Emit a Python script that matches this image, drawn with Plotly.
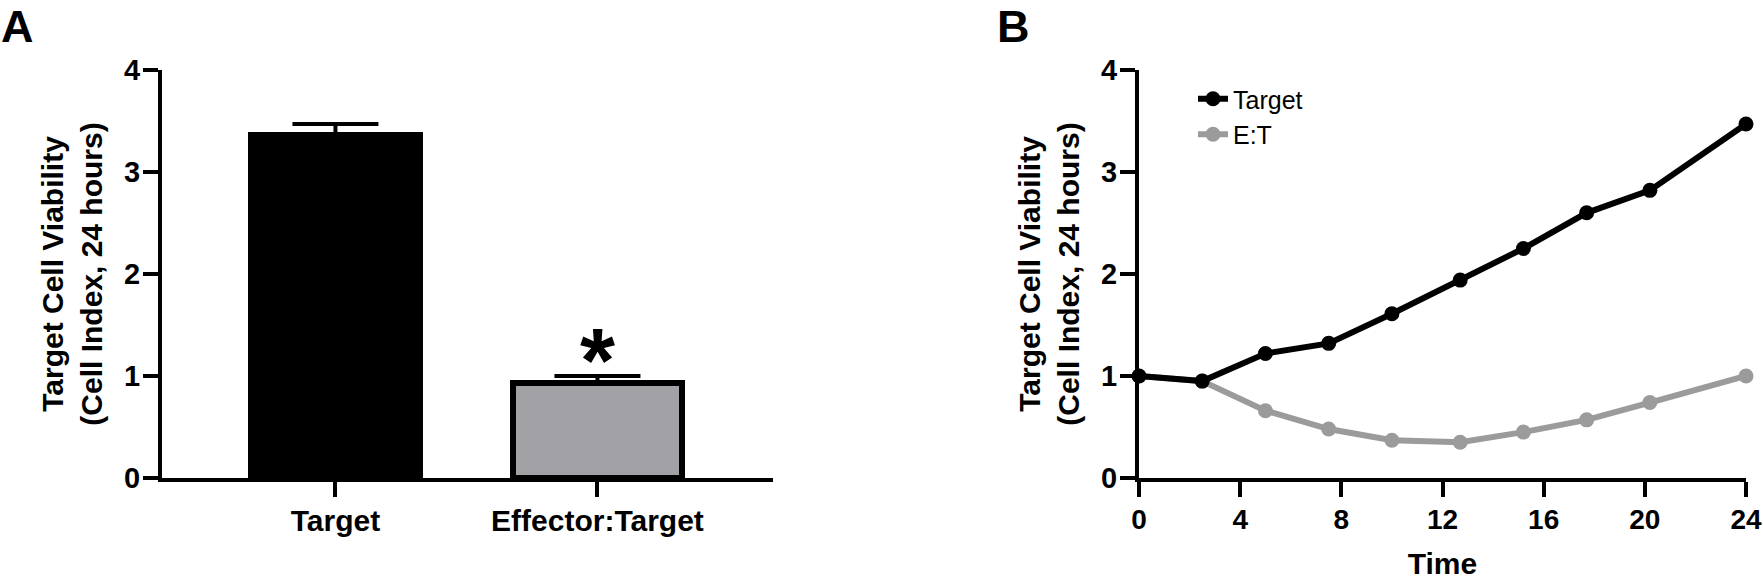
import plotly.graph_objects as go

# Panel A: viability at 24 h
groups = ["Target", "Effector:Target"]
viability = [3.36, 0.93]
viability_err = [0.11, 0.07]

# Panel B: time course
times = [0, 2.5, 5, 7.5, 10, 12.7, 15.2, 17.7, 20.2, 24]
target_ci = [1.00, 0.95, 1.22, 1.32, 1.61, 1.94, 2.25, 2.60, 2.82, 3.47]
et_ci = [1.00, 0.95, 0.66, 0.48, 0.37, 0.35, 0.45, 0.57, 0.74, 1.00]

W, H = 1763, 580
FONT = "Liberation Sans, Arial, sans-serif"
y_title = "Target Cell Viability<br>(Cell Index, 24 hours)"


def px_x(p):
    return p / W


def px_y(p):
    return (H - p) / H


def bold(size):
    return {"family": FONT, "size": size, "color": "black", "weight": "bold"}


fig = go.Figure()

fig.add_trace(
    go.Bar(
        x=groups,
        y=viability,
        width=0.645,
        marker={"color": ["black", "#a2a1a6"], "line": {"color": "black", "width": 6}},
        error_y={
            "type": "data",
            "symmetric": False,
            "array": viability_err,
            "arrayminus": [0, 0],
            "color": "black",
            "thickness": 4,
            "width": 43,
        },
        showlegend=False,
        xaxis="x",
        yaxis="y",
    )
)

# E:T drawn first so the Target line sits on top where they overlap
fig.add_trace(
    go.Scatter(
        x=times,
        y=et_ci,
        name="E:T",
        mode="lines+markers",
        line={"color": "#9b9b9b", "width": 6},
        marker={"color": "#9b9b9b", "size": 15},
        cliponaxis=False,
        legendrank=2,
        xaxis="x2",
        yaxis="y2",
    )
)
fig.add_trace(
    go.Scatter(
        x=times,
        y=target_ci,
        name="Target",
        mode="lines+markers",
        line={"color": "black", "width": 6},
        marker={"color": "black", "size": 15},
        cliponaxis=False,
        legendrank=1,
        xaxis="x2",
        yaxis="y2",
    )
)

axis_common = dict(
    showline=True,
    linecolor="black",
    linewidth=4,
    ticks="outside",
    ticklen=15,
    tickwidth=4,
    tickcolor="black",
    showgrid=False,
    zeroline=False,
    automargin=False,
)

y_dom = [px_y(478), px_y(70)]

fig.update_layout(
    width=W,
    height=H,
    margin={"l": 0, "r": 0, "t": 0, "b": 0},
    paper_bgcolor="white",
    plot_bgcolor="white",
    bargap=0,
    xaxis={
        **axis_common,
        "domain": [px_x(162), px_x(773)],
        "type": "category",
        "range": [-0.662, 1.670],
        "anchor": "y",
        "tickfont": bold(30),
        "ticklabelstandoff": -2,
    },
    yaxis={
        **axis_common,
        "domain": y_dom,
        "range": [0, 4],
        "tickvals": [0, 1, 2, 3, 4],
        "anchor": "x",
        "tickfont": bold(29),
        "ticklabelstandoff": -3,
        "title": {"text": y_title, "font": bold(30), "standoff": 14},
    },
    xaxis2={
        **axis_common,
        "domain": [px_x(1139), px_x(1746)],
        "range": [0, 24],
        "tickvals": [0, 4, 8, 12, 16, 20, 24],
        "anchor": "y2",
        "tickfont": bold(28),
        "ticklabelstandoff": -2,
        "title": {"text": "Time", "font": bold(30), "standoff": 22},
    },
    yaxis2={
        **axis_common,
        "domain": y_dom,
        "range": [0, 4],
        "tickvals": [0, 1, 2, 3, 4],
        "anchor": "x2",
        "tickfont": bold(29),
        "ticklabelstandoff": -3,
        "title": {"text": y_title, "font": bold(30), "standoff": 14},
    },
    legend={
        "x": px_x(1193),
        "y": px_y(76),
        "xanchor": "left",
        "yanchor": "top",
        "bgcolor": "rgba(0,0,0,0)",
        "font": {"family": FONT, "size": 25, "color": "black"},
    },
    annotations=[
        {
            "text": "*",
            "x": "Effector:Target",
            "y": 1.15,
            "xref": "x",
            "yref": "y",
            "showarrow": False,
            "yanchor": "middle",
            "font": bold(90),
        },
        {
            "text": "A",
            "x": 0,
            "y": 1,
            "xref": "paper",
            "yref": "paper",
            "xanchor": "left",
            "yanchor": "top",
            "borderpad": 0,
            "showarrow": False,
            "font": bold(45),
        },
        {
            "text": "B",
            "x": px_x(1000),
            "y": 1,
            "xref": "paper",
            "yref": "paper",
            "xanchor": "left",
            "yanchor": "top",
            "xshift": -4,
            "borderpad": 0,
            "showarrow": False,
            "font": bold(45),
        },
    ],
)

# the page body has a default 8px margin; drop it so the figure fills the window exactly
fig.write_html(
    "out.html",
    config={"displayModeBar": False},
    post_script="document.body.style.margin = '0';",
)
